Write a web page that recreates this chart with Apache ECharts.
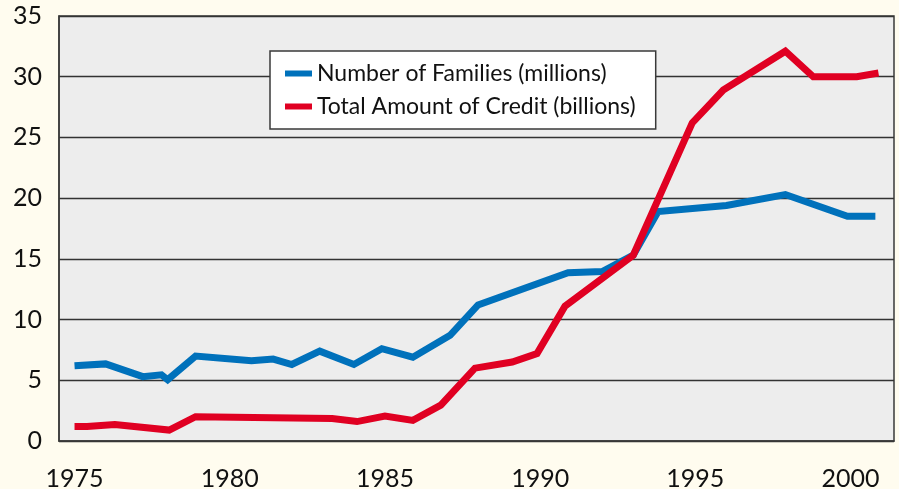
<!DOCTYPE html>
<html>
<head>
<meta charset="utf-8">
<script src="https://cdn.jsdelivr.net/npm/echarts@6/dist/echarts.min.js"></script>
<style>
  html, body { margin: 0; padding: 0; background: #fffcef; }
  #main { width: 899px; height: 489px; }
</style>
</head>
<body>
<div id="main"></div>
<script>
// values (year positions are fractional where the line bends between years)
const familyYears = [1975.0, 1976.0, 1977.2, 1977.8, 1978.0, 1978.9, 1980.7, 1981.4, 1982.0, 1982.9,
    1984.0, 1984.9, 1985.9, 1987.1, 1988.0, 1990.9, 1992.0, 1993.0, 1993.8, 1996.0, 1997.9, 1999.9, 2000.8];
const familyValues = [6.2, 6.35, 5.3, 5.45, 5.05, 7.0, 6.6, 6.75, 6.3, 7.4,
    6.3, 7.6, 6.9, 8.7, 11.2, 13.85, 13.95, 15.3, 18.9, 19.4, 20.3, 18.5, 18.5];

const creditYears = [1975.0, 1975.4, 1976.3, 1978.05, 1978.9, 1983.3, 1984.1, 1985.0, 1985.9, 1986.8,
    1987.9, 1989.1, 1989.9, 1990.8, 1993.0, 1994.9, 1995.9, 1997.9, 1998.8, 2000.2, 2000.9];
const creditValues = [1.2, 1.2, 1.35, 0.9, 2.0, 1.85, 1.6, 2.05, 1.7, 2.95,
    6.0, 6.5, 7.2, 11.1, 15.3, 26.2, 28.9, 32.1, 30.0, 30.0, 30.3];

const yearLabels = [1975, 1980, 1985, 1990, 1995, 2000];
const seriesNames = ['Number of Families (millions)', 'Total Amount of Credit (billions)'];

const pair = (xs, ys) => xs.map((x, i) => [x, ys[i]]);

const myChart = echarts.init(document.getElementById('main'));
const font = 'Lato, "DejaVu Sans", sans-serif';

const option = {
    backgroundColor: '#fffcef',
    animation: false,
    grid: {
        left: 59,
        top: 16,
        width: 835,
        height: 425,
        outerBoundsMode: 'none',
        show: true,
        backgroundColor: '#ededed',
        borderColor: '#3a3a3a',
        borderWidth: 1.5
    },
    legend: {
        orient: 'vertical',
        left: 270,
        top: 51,
        padding: [11, 20, 11, 15],
        backgroundColor: '#ffffff',
        borderColor: '#3a3a3a',
        borderWidth: 1.5,
        itemWidth: 27,
        itemHeight: 6,
        itemGap: 10,
        icon: 'rect',
        textStyle: { fontFamily: font, fontSize: 23, color: '#111' },
        data: seriesNames
    },
    xAxis: {
        type: 'value',
        min: 1974.5,
        max: 2001.4,
        axisLine: { show: true, lineStyle: { color: '#3a3a3a', width: 1.5 } },
        axisTick: { show: false },
        splitLine: { show: false },
        axisLabel: {
            customValues: yearLabels,
            formatter: v => String(v),
            margin: 25,
            fontFamily: font,
            fontSize: 25,
            color: '#111'
        }
    },
    yAxis: {
        type: 'value',
        min: 0,
        max: 35,
        interval: 5,
        axisLine: { show: true, lineStyle: { color: '#3a3a3a', width: 1.5 } },
        axisTick: { show: false },
        splitLine: { show: true, lineStyle: { color: '#333', width: 1.3 } },
        axisLabel: {
            margin: 17,
            fontFamily: font,
            fontSize: 25,
            color: '#111'
        }
    },
    series: [
        {
            name: seriesNames[0],
            type: 'line',
            data: pair(familyYears, familyValues),
            showSymbol: false,
            color: '#0071bb',
            lineStyle: { width: 7, color: '#0071bb', cap: 'butt', join: 'miter' }
        },
        {
            name: seriesNames[1],
            type: 'line',
            data: pair(creditYears, creditValues),
            showSymbol: false,
            color: '#e00022',
            lineStyle: { width: 7, color: '#e00022', cap: 'butt', join: 'miter' }
        }
    ]
};
myChart.setOption(option);
</script>
</body>
</html>
